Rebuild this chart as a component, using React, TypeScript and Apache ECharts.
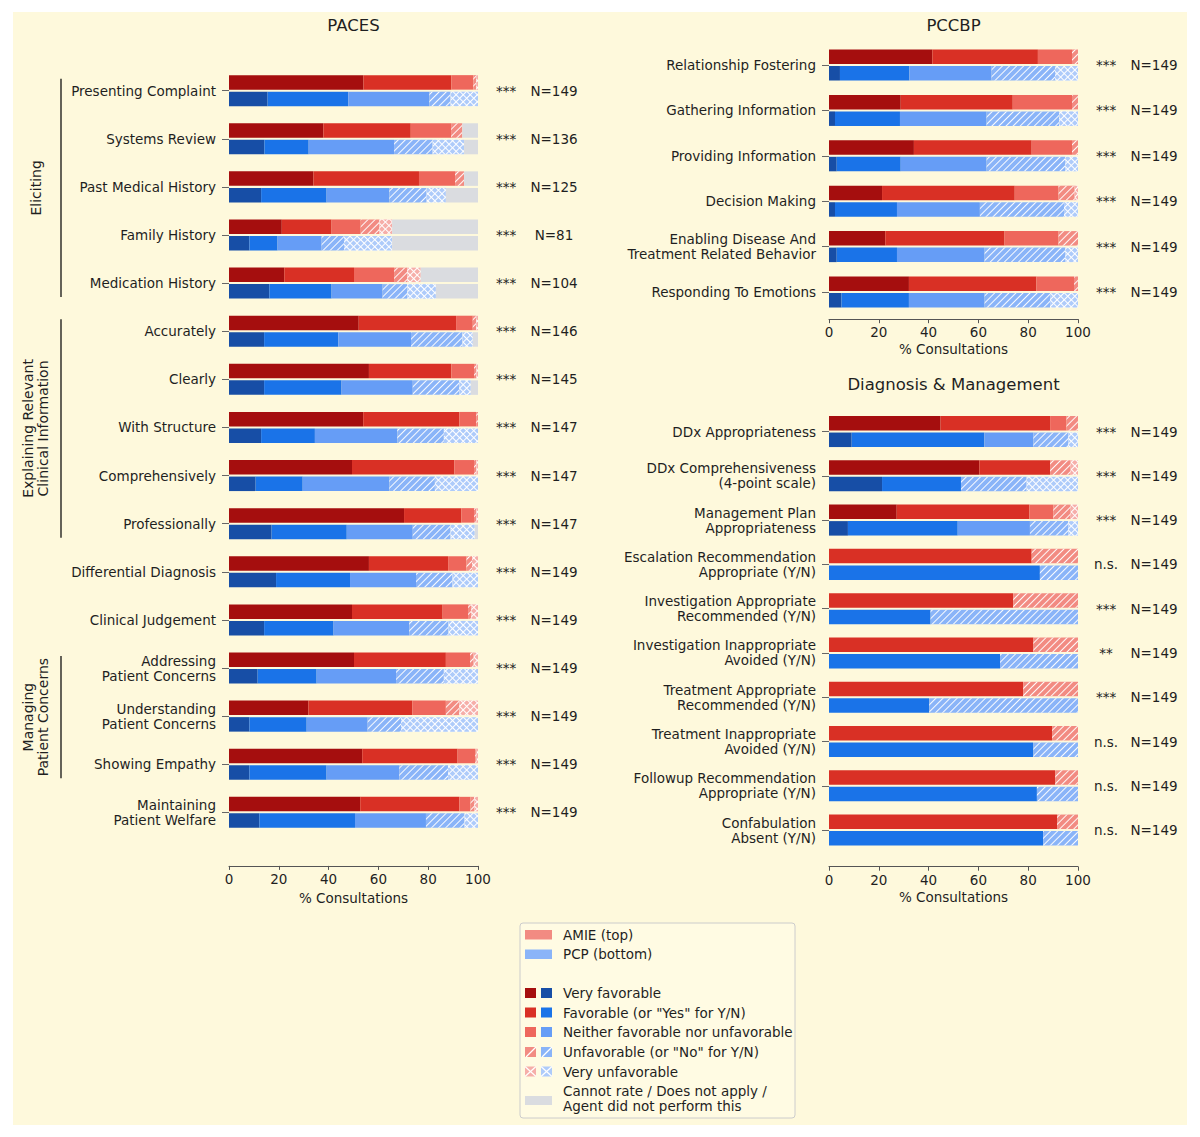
import React, { useEffect, useRef } from "react";
import * as echarts from "echarts";

// ---------- DATA ----------
const levelNames = [
  "Very favorable",
  "Favorable (or \"Yes\" for Y/N)",
  "Neither favorable nor unfavorable",
  "Unfavorable (or \"No\" for Y/N)",
  "Very unfavorable",
  "Cannot rate / Does not apply /\nAgent did not perform this",
];

const pacesCats = [
  "Presenting Complaint",
  "Systems Review",
  "Past Medical History",
  "Family History",
  "Medication History",
  "Accurately",
  "Clearly",
  "With Structure",
  "Comprehensively",
  "Professionally",
  "Differential Diagnosis",
  "Clinical Judgement",
  "Addressing\nPatient Concerns",
  "Understanding\nPatient Concerns",
  "Showing Empathy",
  "Maintaining\nPatient Welfare",
];
const pacesSig = ["***", "***", "***", "***", "***", "***", "***", "***", "***", "***", "***", "***", "***", "***", "***", "***"];
const pacesN = [149, 136, 125, 81, 104, 146, 145, 147, 147, 147, 149, 149, 149, 149, 149, 149];
// [very favorable, favorable, neither, unfavorable, very unfavorable, cannot rate] in %
const pacesAmie = [
  [54.0, 35.3, 8.8, 1.2, 0.7, 0],
  [37.9, 35.1, 16.2, 4.5, 0, 6.3],
  [33.9, 42.4, 14.5, 3.6, 0, 5.6],
  [21.2, 20.0, 11.7, 7.5, 5.1, 34.5],
  [22.2, 28.0, 16.1, 5.3, 5.4, 23.0],
  [52.1, 39.1, 6.7, 1.4, 0.7, 0],
  [56.2, 33.1, 9.1, 1.0, 0.6, 0],
  [53.9, 38.6, 6.8, 0.7, 0, 0],
  [49.4, 41.1, 7.9, 1.0, 0.6, 0],
  [70.3, 23.0, 5.1, 1.0, 0.6, 0],
  [56.2, 31.8, 7.4, 2.2, 2.4, 0],
  [49.4, 36.4, 10.2, 1.3, 2.7, 0],
  [50.2, 36.9, 9.7, 1.5, 1.7, 0],
  [31.9, 41.7, 13.5, 5.4, 7.5, 0],
  [53.5, 38.3, 7.1, 0.6, 0.5, 0],
  [52.7, 39.8, 4.5, 1.5, 1.5, 0],
];
const pacesPcp = [
  [15.5, 32.4, 32.6, 8.5, 11.0, 0],
  [14.2, 17.8, 34.3, 15.5, 12.6, 5.6],
  [12.9, 26.3, 25.2, 15.0, 7.7, 12.9],
  [8.2, 11.3, 17.7, 9.0, 19.3, 34.5],
  [16.2, 25.0, 20.5, 9.9, 11.5, 16.9],
  [14.1, 29.8, 29.2, 20.7, 4.1, 2.1],
  [14.1, 31.1, 28.6, 18.7, 4.6, 2.9],
  [12.9, 21.6, 33.1, 18.7, 13.7, 0],
  [10.7, 18.9, 34.8, 18.3, 17.3, 0],
  [17.1, 30.2, 26.5, 15.2, 9.7, 1.3],
  [18.9, 29.7, 26.5, 14.7, 10.2, 0],
  [14.1, 27.9, 30.4, 15.8, 11.8, 0],
  [11.5, 23.7, 31.9, 19.2, 13.7, 0],
  [8.2, 23.0, 24.5, 13.4, 30.9, 0],
  [8.2, 31.0, 29.2, 19.6, 12.0, 0],
  [12.2, 38.4, 28.5, 15.5, 5.4, 0],
];

const pccbpCats = [
  "Relationship Fostering",
  "Gathering Information",
  "Providing Information",
  "Decision Making",
  "Enabling Disease And\nTreatment Related Behavior",
  "Responding To Emotions",
];
const pccbpSig = ["***", "***", "***", "***", "***", "***"];
const pccbpN = [149, 149, 149, 149, 149, 149];
const pccbpAmie = [
  [41.5, 42.4, 13.7, 2.4, 0, 0],
  [28.8, 45.0, 23.8, 2.4, 0, 0],
  [34.1, 47.3, 16.2, 2.4, 0, 0],
  [21.3, 53.3, 17.6, 6.5, 1.3, 0],
  [22.6, 47.9, 21.7, 7.8, 0, 0],
  [32.1, 51.2, 15.1, 1.6, 0, 0],
];
const pccbpPcp = [
  [4.4, 27.9, 33.0, 25.5, 9.2, 0],
  [2.4, 26.1, 34.8, 29.2, 7.5, 0],
  [3.1, 25.7, 34.5, 31.6, 5.1, 0],
  [2.4, 24.9, 33.3, 33.8, 5.6, 0],
  [3.1, 24.2, 35.2, 32.4, 5.1, 0],
  [5.0, 27.1, 30.4, 26.3, 11.2, 0],
];

const dmCats = [
  "DDx Appropriateness",
  "DDx Comprehensiveness\n(4-point scale)",
  "Management Plan\nAppropriateness",
  "Escalation Recommendation\nAppropriate (Y/N)",
  "Investigation Appropriate\nRecommended (Y/N)",
  "Investigation Inappropriate\nAvoided (Y/N)",
  "Treatment Appropriate\nRecommended (Y/N)",
  "Treatment Inappropriate\nAvoided (Y/N)",
  "Followup Recommendation\nAppropriate (Y/N)",
  "Confabulation\nAbsent (Y/N)",
];
const dmSig = ["***", "***", "***", "n.s.", "***", "**", "***", "n.s.", "n.s.", "n.s."];
const dmN = [149, 149, 149, 149, 149, 149, 149, 149, 149, 149];
const dmAmie = [
  [44.8, 44.0, 6.6, 4.6, 0, 0],
  [60.4, 28.4, 0, 8.3, 2.9, 0],
  [27.2, 53.3, 9.6, 7.0, 2.9, 0],
  [0, 81.4, 0, 18.6, 0, 0],
  [0, 74.0, 0, 26.0, 0, 0],
  [0, 82.1, 0, 17.9, 0, 0],
  [0, 78.0, 0, 22.0, 0, 0],
  [0, 89.6, 0, 10.4, 0, 0],
  [0, 90.9, 0, 9.1, 0, 0],
  [0, 91.6, 0, 8.4, 0, 0],
];
const dmPcp = [
  [9.1, 53.3, 19.7, 14.0, 3.9, 0],
  [21.3, 31.7, 0, 26.4, 20.6, 0],
  [7.6, 44.1, 29.0, 15.4, 3.9, 0],
  [0, 84.7, 0, 15.3, 0, 0],
  [0, 40.8, 0, 59.2, 0, 0],
  [0, 68.7, 0, 31.3, 0, 0],
  [0, 40.3, 0, 59.7, 0, 0],
  [0, 82.1, 0, 17.9, 0, 0],
  [0, 83.5, 0, 16.5, 0, 0],
  [0, 86.0, 0, 14.0, 0, 0],
];

const xTicks = [0, 20, 40, 60, 80, 100];

// ---------- STYLE ----------
const FONT = "DejaVu Sans";
const FS = 13.5;
const TXT = "#1f1f1f";
const BG = "#fef9dc";
const amieColors = ["#a50e0e", "#d93025", "#ee675c", "#f28b82", "#f6aea9", "#dadce0"];
const pcpColors = ["#174ea6", "#1a73e8", "#669df6", "#8ab4f8", "#aecbfa", "#dadce0"];

const hatchDecal = {
  symbol: "rect",
  symbolSize: 1,
  color: "rgba(255,255,255,0.95)",
  dashArrayX: [1, 0],
  dashArrayY: [1, 4],
  rotation: -Math.PI / 4,
};
const crossDecal = (c: string) => ({
  symbol: "rect",
  symbolSize: 1,
  color: c,
  dashArrayX: [4, 1],
  dashArrayY: [4, 1],
  rotation: Math.PI / 4,
});

const panels = [
  { title: "PACES", cats: pacesCats, amie: pacesAmie, pcp: pacesPcp, sig: pacesSig, n: pacesN, left: 229, width: 249, top: 66.6, height: 769.8, offset: 29.5, titleY: 25 },
  { title: "PCCBP", cats: pccbpCats, amie: pccbpAmie, pcp: pccbpPcp, sig: pccbpSig, n: pccbpN, left: 829, width: 249, top: 42.3, height: 272.4, offset: 4.5, titleY: 25 },
  { title: "Diagnosis & Management", cats: dmCats, amie: dmAmie, pcp: dmPcp, sig: dmSig, n: dmN, left: 829, width: 249, top: 409.4, height: 442.8, offset: 14.5, titleY: 384 },
];

const groups = [
  { label: "Eliciting", from: 0, to: 4 },
  { label: "Explaining Relevant\nClinical Information", from: 5, to: 9 },
  { label: "Managing\nPatient Concerns", from: 12, to: 14 },
];

function txt(text: string, x: number, y: number, size: number, align = "center", extra: any = {}) {
  return {
    type: "text",
    x,
    y,
    ...extra,
    style: {
      text,
      fill: TXT,
      font: `${size}px "${FONT}"`,
      fontSize: size,
      fontFamily: FONT,
      align,
      textAlign: align,
      verticalAlign: "middle",
      textVerticalAlign: "middle",
      lineHeight: 15,
    },
  };
}

function App() {
  const ref = useRef<HTMLDivElement>(null);
  useEffect(() => {
    if (!ref.current) return;
    const chart = echarts.init(ref.current, null, { renderer: "svg" });

    const grids: any[] = [];
    const xAxes: any[] = [];
    const yAxes: any[] = [];
    const series: any[] = [];
    const graphics: any[] = [];

    panels.forEach((p, g) => {
      grids.push({ left: p.left, top: p.top, width: p.width, height: p.height, containLabel: false });
      xAxes.push({
        type: "value",
        gridIndex: g,
        min: xTicks[0],
        max: xTicks[xTicks.length - 1],
        interval: xTicks[1] - xTicks[0],
        offset: p.offset,
        axisLine: { show: true, lineStyle: { color: "#555", width: 1 } },
        axisTick: { show: true, length: 4, lineStyle: { color: "#555" } },
        axisLabel: { fontSize: FS, color: TXT, margin: 6, fontFamily: FONT },
        splitLine: { show: false },
        name: "% Consultations",
        nameLocation: "middle",
        nameGap: 23,
        nameTextStyle: { fontSize: FS, color: TXT, fontFamily: FONT },
      });
      yAxes.push({
        type: "category",
        gridIndex: g,
        data: p.cats,
        inverse: true,
        axisLine: { show: false },
        axisTick: { show: true, alignWithLabel: true, length: 7, lineStyle: { color: "#666" } },
        axisLabel: { fontSize: FS, color: TXT, margin: 13, fontFamily: FONT, lineHeight: 15, align: "right" },
      });
      yAxes.push({
        type: "category",
        gridIndex: g,
        position: "right",
        data: p.cats,
        inverse: true,
        axisLine: { show: false },
        axisTick: { show: false },
        axisLabel: {
          margin: 4,
          align: "left",
          formatter: (_v: string, i: number) => `{s|${p.sig[i]}}{n|N=${p.n[i]}}`,
          rich: {
            s: { width: 48, align: "center", fontSize: FS, color: TXT, fontFamily: FONT },
            n: { width: 48, align: "center", fontSize: FS, color: TXT, fontFamily: FONT },
          },
        },
      });
      const yIdx = g * 2;
      [
        { rows: p.amie, colors: amieColors, stack: `amie${g}`, who: "AMIE" },
        { rows: p.pcp, colors: pcpColors, stack: `pcp${g}`, who: "PCP" },
      ].forEach((grp) => {
        for (let l = 0; l < 6; l++) {
          const c = grp.colors[l];
          let itemStyle: any = { color: c };
          if (l === 3) itemStyle = { color: c, decal: hatchDecal };
          if (l === 4) itemStyle = { color: "#ffffff", decal: crossDecal(c) };
          series.push({
            type: "bar",
            name: `${grp.who} ${levelNames[l]}`,
            xAxisIndex: g,
            yAxisIndex: yIdx,
            stack: grp.stack,
            barWidth: 14.5,
            barGap: "14%",
            data: grp.rows.map((r) => r[l]),
            itemStyle,
            emphasis: { disabled: true },
          });
        }
      });
      graphics.push(txt(p.title, p.left + p.width / 2, p.titleY, 16.5));
    });

    // group brackets for PACES
    const p0 = panels[0];
    const band = p0.height / p0.cats.length;
    const center = (i: number) => p0.top + (i + 0.5) * band;
    groups.forEach((gr) => {
      const y1 = center(gr.from) - 12;
      const y2 = center(gr.to) + 14;
      graphics.push({ type: "line", shape: { x1: 61, y1, x2: 61, y2 }, style: { stroke: "#111", lineWidth: 1.3 } });
      graphics.push(txt(gr.label, 35.5, (y1 + y2) / 2, 14, "center", { rotation: Math.PI / 2 }));
    });

    // legend
    const lx = 520, ly = 923;
    graphics.push({ type: "rect", shape: { x: lx, y: ly, width: 275, height: 195, r: 3 }, style: { fill: "#fffbe3", stroke: "#cccccc", lineWidth: 1 } });
    const tx = 563;
    graphics.push({ type: "rect", shape: { x: 525, y: 930, width: 27, height: 9.5 }, style: { fill: amieColors[3] } });
    graphics.push(txt("AMIE (top)", tx, 934.5, FS, "left"));
    graphics.push({ type: "rect", shape: { x: 525, y: 949.5, width: 27, height: 9.5 }, style: { fill: pcpColors[3] } });
    graphics.push(txt("PCP (bottom)", tx, 954, FS, "left"));
    const rowsY = [993, 1012.5, 1032, 1052, 1071.5];
    rowsY.forEach((yy, l) => {
      [{ x: 525, c: amieColors[l] }, { x: 541, c: pcpColors[l] }].forEach((s) => {
        const y0 = yy - 5;
        graphics.push({ type: "rect", shape: { x: s.x, y: y0, width: 11, height: 10 }, style: { fill: s.c } });
        if (l === 4) {
          graphics.push({ type: "line", shape: { x1: s.x, y1: y0, x2: s.x + 11, y2: y0 + 10 }, style: { stroke: "#fff", lineWidth: 1.2 } });
          graphics.push({ type: "line", shape: { x1: s.x, y1: y0 + 10, x2: s.x + 11, y2: y0 }, style: { stroke: "#fff", lineWidth: 1.2 } });
        } else if (l === 3) {
          graphics.push({ type: "line", shape: { x1: s.x + 1, y1: y0 + 10, x2: s.x + 11, y2: y0 }, style: { stroke: "#fff", lineWidth: 1.3 } });
        }
      });
      graphics.push(txt(levelNames[l], tx, yy, FS, "left"));
    });
    graphics.push({ type: "rect", shape: { x: 525, y: 1096, width: 27, height: 9 }, style: { fill: amieColors[5] } });
    graphics.push(txt(levelNames[5], tx, 1098.5, FS, "left"));

    chart.setOption({
      animation: false,
      backgroundColor: "transparent",
      textStyle: { fontFamily: FONT },
      grid: grids,
      xAxis: xAxes,
      yAxis: yAxes,
      series,
      graphic: { elements: graphics },
    });
    return () => chart.dispose();
  }, []);

  return (
    <div style={{ position: "absolute", left: 0, top: 0, width: 1200, height: 1137, background: "#ffffff" }}>
      <div style={{ position: "absolute", left: 13, top: 12, width: 1174, height: 1113, background: BG }} />
      <div ref={ref} style={{ position: "absolute", left: 0, top: 0, width: 1200, height: 1137 }} />
    </div>
  );
}

export default App;
